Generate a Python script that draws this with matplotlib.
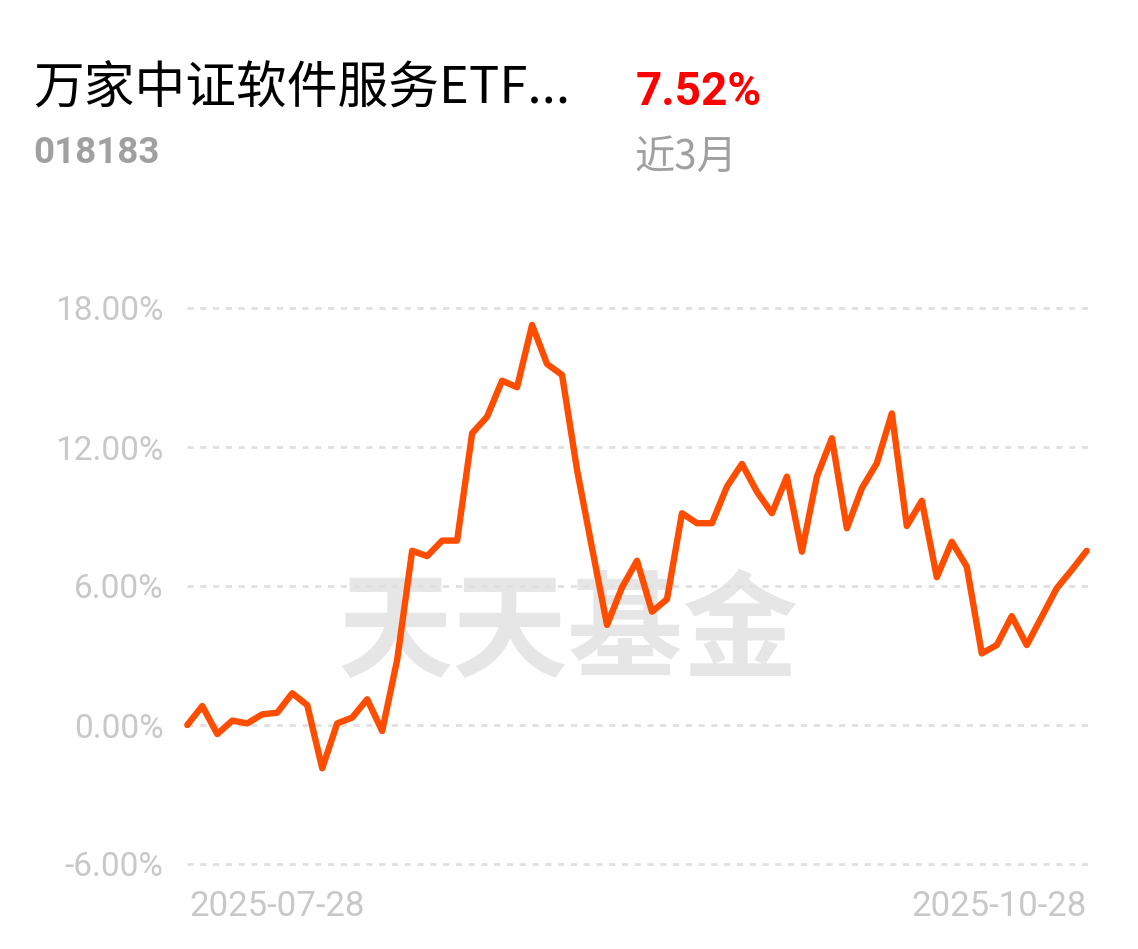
#!/usr/bin/env python3
import matplotlib
matplotlib.use("Agg")
import matplotlib.pyplot as plt
from matplotlib.ticker import FuncFormatter

# 近3月 cumulative return (%), one value per trading day 2025-07-28 .. 2025-10-28
returns = [
    0.00, 0.82, -0.39, 0.19, 0.07, 0.46, 0.53, 1.37, 0.86, -1.87,
    0.07, 0.32, 1.11, -0.26, 2.81, 7.52, 7.29, 7.96, 7.96, 12.59,
    13.31, 14.86, 14.58, 17.27, 15.58, 15.11, 11.01, 7.64, 4.32, 5.94,
    7.09, 4.89, 5.43, 9.14, 8.71, 8.71, 10.29, 11.27, 10.07, 9.14,
    10.72, 7.48, 10.72, 12.38, 8.49, 10.22, 11.30, 13.45, 8.59, 9.68,
    6.38, 7.91, 6.83, 3.09, 3.45, 4.70, 3.45, 4.67, 5.90, 6.69,
    7.52,
]
y_ticks = [-6, 0, 6, 12, 18]
start_date = "2025-07-28"
end_date = "2025-10-28"

fund_name = "万家中证软件服务ETF..."
fund_code = "018183"
period_return = "7.52%"
period_label = "近3月"
watermark = "天天基金"

CJK = ["Noto Sans CJK SC", "DejaVu Sans"]
NUM = ["Roboto", "DejaVu Sans"]
GREY = "#c8c8c8"

W, H = 1138, 949


def main():
    fig = plt.figure(figsize=(W / 100, H / 100), dpi=100)
    fig.patch.set_facecolor("white")

    # plot area, placed in pixel terms
    left, right = 187.3 / W, 1086.7 / W
    bottom, top = 1 - 864 / H, 1 - 308 / H
    ax = fig.add_axes([left, bottom, right - left, top - bottom])

    x = list(range(len(returns)))
    ax.plot(x, returns, color="#ff4d00", lw=4.6, solid_joinstyle="round",
            solid_capstyle="round", clip_on=False, zorder=3)

    ax.set_xlim(0, len(returns) - 1)
    ax.set_ylim(y_ticks[0], y_ticks[-1])
    ax.set_yticks(y_ticks)
    ax.yaxis.set_major_formatter(FuncFormatter(lambda v, _: f"{v:.2f}%"))
    ax.set_xticks([])
    for t in ax.get_yticklabels():
        t.set_family(NUM)
    ax.tick_params(axis="y", length=0, pad=17, labelsize=24,
                   labelcolor=GREY)

    for v in y_ticks:
        ax.axhline(v, color="#e0e0e0", lw=2.0, ls=(0, (2.2, 2.4)), zorder=1,
                   xmin=0, xmax=1.002, clip_on=False)
    for s in ax.spines.values():
        s.set_visible(False)

    # watermark
    ax.text(0.424, 0.412, watermark, transform=ax.transAxes, ha="center",
            va="center", fontsize=83, fontweight="bold", color="#e6e6e6",
            family=CJK, zorder=0)

    # date labels under the plot
    fig.text(left + 2 / W, 1 - 906 / H, start_date, ha="left", va="center",
             fontsize=25, color=GREY, family=NUM)
    fig.text(right, 1 - 906 / H, end_date, ha="right", va="center",
             fontsize=25, color=GREY, family=NUM)

    # header
    fig.text(33 / W, 1 - 90 / H, fund_name, ha="left", va="center",
             fontsize=36.5, color="black", family=CJK)
    fig.text(33 / W, 1 - 153 / H, fund_code, ha="left", va="center",
             fontsize=26.5, fontweight="bold", color="#a0a0a0", family=NUM)
    fig.text(636 / W, 1 - 92 / H, period_return, ha="left", va="center",
             fontsize=33, fontweight="bold", color="#ff0000", family=NUM)
    fig.text(634 / W, 1 - 157 / H, period_label, ha="left", va="center",
             fontsize=29, color="#a0a0a0", family=CJK)

    fig.savefig("out.png", dpi=100, facecolor="white")


if __name__ == "__main__":
    main()
